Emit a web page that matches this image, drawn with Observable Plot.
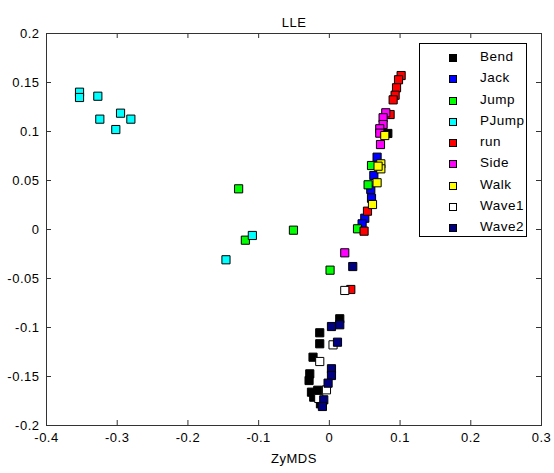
<!DOCTYPE html>
<html>
<head>
<meta charset="utf-8">
<script src="https://cdn.jsdelivr.net/npm/d3@7"></script>
<script src="https://cdn.jsdelivr.net/npm/@observablehq/plot@0.6"></script>
<style>
  body { margin: 0; background: #fff; }
  #wrap { position: relative; width: 554px; height: 473px; font-family: "Liberation Sans", Arial, sans-serif; }
  .legend { position: absolute; left: 419px; top: 43px; width: 108px; height: 194px; box-sizing: border-box;
            border: 1px solid #000; background: #fff; padding-top: 3px; }
  .legend .row { position: relative; height: 21.3px; }
  .legend .sw { position: absolute; left: 29px; top: 7px; width: 8px; height: 8px; box-sizing: border-box; border: 1px solid #000; }
  .legend .lb { position: absolute; left: 60px; top: 2px; font-size: 13.5px; letter-spacing: 0.5px; color: #000; }
</style>
</head>
<body>
<div id="wrap"></div>
<script>
// Activity classes and their marker colours
const series = ["Bend", "Jack", "Jump", "PJump", "run", "Side", "Walk", "Wave1", "Wave2"];
const colors = ["#000000", "#0000ff", "#00ff00", "#00ffff", "#ff0000", "#ff00ff", "#ffff00", "#ffffff", "#000080"];

// Embedding coordinates [x, y] per class
const bend = [[0.0147, -0.0911], [-0.0136, -0.1054], [-0.0136, -0.1166], [-0.0231, -0.1303], [-0.0277, -0.1473],
              [-0.0287, -0.1541], [-0.0164, -0.1640], [-0.0253, -0.1660], [-0.0221, -0.1711], [-0.0126, -0.1779],
              [0.0827, 0.0980]];
const jack = [[0.0675, 0.0738], [0.0629, 0.0551], [0.0586, 0.0408], [0.0596, 0.0319], [0.0501, 0.0115], [0.0463, 0.0058]];
const jump = [[-0.1283, 0.0415], [-0.0508, -0.0007], [-0.1188, -0.0109], [0.0010, -0.0415], [0.0596, 0.0653],
              [0.0548, 0.0456], [0.0398, 0.0007]];
const pjump = [[-0.3533, 0.1401], [-0.3533, 0.1347], [-0.3274, 0.1360], [-0.2953, 0.1187], [-0.2807, 0.1126],
               [-0.3246, 0.1126], [-0.3020, 0.1020], [-0.1089, -0.0061], [-0.1462, -0.0309]];
const run = [[0.1015, 0.1571], [0.0978, 0.1528], [0.0950, 0.1446], [0.0930, 0.1370], [0.0902, 0.1323],
             [0.0859, 0.1173], [0.0539, 0.0187], [0.0491, -0.0017], [0.0303, -0.0612]];
const side = [[0.0798, 0.1191], [0.0760, 0.1140], [0.0760, 0.1071], [0.0713, 0.1028], [0.0713, 0.0983],
              [0.0723, 0.0867], [0.0218, -0.0238]];
const walk = [[0.0784, 0.0959], [0.0728, 0.0670], [0.0728, 0.0619], [0.0689, 0.0646], [0.0675, 0.0477], [0.0610, 0.0255]];
const wave1 = [[0.0218, -0.0622], [0.0052, -0.1177], [-0.0136, -0.1347], [-0.0041, -0.1636], [-0.0150, -0.1724]];
const wave2 = [[0.0331, -0.0378], [0.0147, -0.0972], [0.0030, -0.0990], [0.0115, -0.1150], [0.0030, -0.1421],
               [0.0030, -0.1490], [-0.0018, -0.1568], [-0.0079, -0.1738], [-0.0098, -0.1806]];

const xTicks = [-0.4, -0.3, -0.2, -0.1, 0, 0.1, 0.2, 0.3];
const yTicks = [-0.2, -0.15, -0.1, -0.05, 0, 0.05, 0.1, 0.15, 0.2];

const groups = [bend, jack, jump, pjump, run, side, walk, wave1, wave2];
const points = groups.flatMap((g, i) => g.map(([x, y]) => ({x, y, series: series[i]})));

const W = 554, H = 473;
const mL = 46, mR = 13, mT = 33, mB = 48;
const frameW = W - mL - mR, frameH = H - mT - mB;
const tick = 5;
const axisColor = "#333";
const fmt = d => String(d);

const chart = Plot.plot({
  width: W, height: H,
  marginLeft: mL, marginRight: mR, marginTop: mT, marginBottom: mB,
  style: {fontFamily: '"Liberation Sans", Arial, sans-serif', fontSize: "13px", color: "#000", background: "#fff", letterSpacing: "0.5px"},
  x: {domain: [-0.4, 0.3]},
  y: {domain: [-0.2, 0.2]},
  color: {domain: series, range: colors},
  marks: [
    Plot.frame({stroke: axisColor}),
    // inward ticks on all four sides
    Plot.ruleX(xTicks, {x: d => d, insetTop: frameH - tick, stroke: axisColor}),
    Plot.ruleX(xTicks, {x: d => d, insetBottom: frameH - tick, stroke: axisColor}),
    Plot.ruleY(yTicks, {y: d => d, insetRight: frameW - tick, stroke: axisColor}),
    Plot.ruleY(yTicks, {y: d => d, insetLeft: frameW - tick, stroke: axisColor}),
    Plot.axisX(xTicks, {tickSize: 0, tickPadding: 7, tickFormat: fmt, label: null, fill: "#000"}),
    Plot.axisY(yTicks, {tickSize: 0, tickPadding: 7, tickFormat: fmt, label: null, fill: "#000"}),
    Plot.dot(points, {x: "x", y: "y", fill: "series", symbol: "square", r: 4.6, stroke: "#000", strokeWidth: 1}),
    Plot.text(["LLE"], {text: d => d, frameAnchor: "top", dy: -16, fill: "#000"}),
    Plot.text(["ZyMDS"], {text: d => d, frameAnchor: "bottom", dy: 37, fill: "#000"})
  ]
});

const wrap = document.getElementById("wrap");
wrap.appendChild(chart);

// legend box inside the upper right of the axes
const legend = document.createElement("div");
legend.className = "legend";
series.forEach((s, i) => {
  const row = document.createElement("div");
  row.className = "row";
  const sw = document.createElement("span");
  sw.className = "sw";
  sw.style.background = colors[i];
  const lb = document.createElement("span");
  lb.className = "lb";
  lb.textContent = s;
  row.appendChild(sw);
  row.appendChild(lb);
  legend.appendChild(row);
});
wrap.appendChild(legend);
</script>
</body>
</html>
